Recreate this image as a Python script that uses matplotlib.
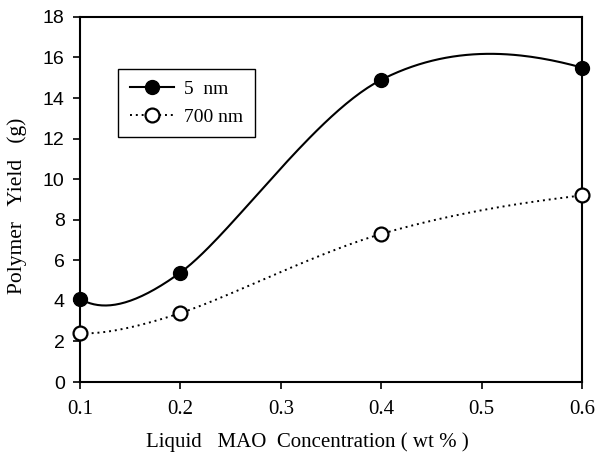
import numpy as np
import matplotlib
matplotlib.use('Agg')
import matplotlib.pyplot as plt

# data
conc = [0.1, 0.2, 0.4, 0.6]
yield_5nm = [4.1, 5.4, 14.9, 15.5]
yield_700nm = [2.4, 3.4, 7.3, 9.2]


def smooth(xs, ys, n=60):
    # Excel-style smoothed line: cubic Bezier segments, Catmull-Rom tangents
    p = np.column_stack([xs, ys]).astype(float)
    k = len(p)
    t = np.zeros_like(p)
    for i in range(1, k - 1):
        t[i] = (p[i + 1] - p[i - 1]) / 2
    # end tangents: halfway between a quadratic and a natural end
    t[0] = (2 * (p[1] - p[0]) - t[1] + (3 * (p[1] - p[0]) - t[1]) / 2) / 2
    t[-1] = (2 * (p[-1] - p[-2]) - t[-2] + (3 * (p[-1] - p[-2]) - t[-2]) / 2) / 2
    out = []
    s = np.linspace(0, 1, n)[:, None]
    for i in range(k - 1):
        b0, b3 = p[i], p[i + 1]
        b1, b2 = b0 + t[i] / 3, b3 - t[i + 1] / 3
        seg = (1 - s) ** 3 * b0 + 3 * (1 - s) ** 2 * s * b1 + 3 * (1 - s) * s ** 2 * b2 + s ** 3 * b3
        out.append(seg if i == 0 else seg[1:])
    out = np.vstack(out)
    return out[:, 0], out[:, 1]


fig = plt.figure(figsize=(5.97, 4.57), dpi=100)
ax = fig.add_axes([0.134, 0.164, 0.841, 0.799])

sx, sy = smooth(conc, yield_5nm)
ax.plot(sx, sy, color='black', lw=1.5, zorder=2)
sx, sy = smooth(conc, yield_700nm)
ax.plot(sx, sy, color='black', lw=1.4, ls=(0, (1, 2)), zorder=2)

ax.plot(conc, yield_5nm, 'o', color='black', ms=10, zorder=3, clip_on=False)
ax.plot(conc, yield_700nm, 'o', mfc='white', mec='black', mew=1.6, ms=10, zorder=3, clip_on=False)

# legend proxies
ax.plot([], [], '-o', color='black', lw=1.5, ms=10, label='5  nm')
ax.plot([], [], 'o', ls=(0, (1, 2)), color='black', mfc='white', mew=1.6, lw=1.4, ms=10, label='700 nm')
leg = ax.legend(loc='upper left', bbox_to_anchor=(118 / 597, 1 - 69 / 457), bbox_transform=fig.transFigure,
                borderaxespad=0, fancybox=False, framealpha=1, edgecolor='black',
                prop={'family': 'Liberation Serif', 'size': 14},
                handlelength=2.3, handletextpad=0.5, borderpad=0.6, labelspacing=0.5)
leg.get_frame().set_linewidth(1.0)

ax.set_xlim(0.1, 0.6)
ax.set_ylim(0, 18)
ax.set_xticks([0.1, 0.2, 0.3, 0.4, 0.5, 0.6])
ax.set_yticks(range(0, 19, 2))
ax.set_xticklabels(['0.1', '0.2', '0.3', '0.4', '0.5', '0.6'], family='Liberation Serif', fontsize=15)
ax.set_yticklabels([str(v) for v in range(0, 19, 2)], family='Liberation Sans', fontsize=14)
ax.tick_params(axis='both', direction='out', length=5, width=1.2)
ax.tick_params(axis='x', pad=8)
ax.tick_params(axis='y', pad=6)
for sp in ax.spines.values():
    sp.set_linewidth(1.5)

ax.set_xlabel('Liquid   MAO  Concentration ( wt % )', family='Liberation Serif', fontsize=15)
ax.set_ylabel('Polymer   Yield   (g)', family='Liberation Serif', fontsize=15.5)
ax.xaxis.set_label_coords(0.452, -0.137)
ax.yaxis.set_label_coords(-0.105, 0.482)

fig.savefig('out.png', dpi=100)
